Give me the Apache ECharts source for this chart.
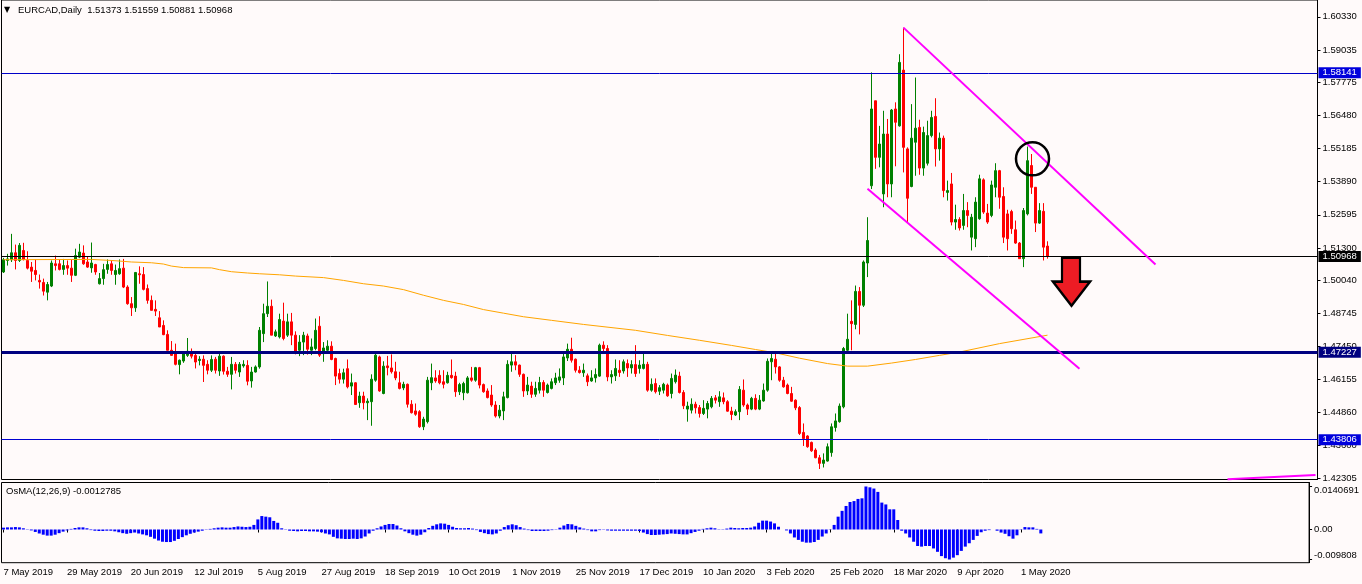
<!DOCTYPE html>
<html><head><meta charset="utf-8">
<script src="https://cdn.jsdelivr.net/npm/echarts@6/dist/echarts.min.js"></script>
<style>html,body{margin:0;padding:0;background:#fffafa;}#c{width:1362px;height:584px;}</style>
</head><body><div id="c"></div>
<script>
// ---- tick labels ----
const dateTicks = ['7 May 2019','29 May 2019','20 Jun 2019','12 Jul 2019','5 Aug 2019','27 Aug 2019','18 Sep 2019','10 Oct 2019','1 Nov 2019','25 Nov 2019','17 Dec 2019','10 Jan 2020','3 Feb 2020','25 Feb 2020','18 Mar 2020','9 Apr 2020','1 May 2020'];
const dateTickStep = 16;
const priceTicks = [1.60330,1.59035,1.57775,1.56480,1.55185,1.53890,1.52595,1.51300,1.50040,1.48745,1.47450,1.46155,1.44860,1.43600,1.42305];
const osmaTicks = [0.0140691, 0, -0.009808];
const osmaTickText = ['0.0140691','0.00','-0.009808'];

// ---- daily candles (EURCAD) ----
const opens = [1.5036,1.5081,1.5084,1.5111,1.5081,1.5120,1.5081,1.5055,1.5042,1.5003,
1.4995,1.4957,1.4981,1.5068,1.5068,1.5046,1.5061,1.5051,1.5023,1.5094,
1.5110,1.5075,1.5052,1.5065,1.4990,1.5010,1.5046,1.5068,1.5026,1.5029,
1.5051,1.4977,1.4912,1.4896,1.5029,1.5026,1.4971,1.4925,1.4890,1.4857,
1.4827,1.4792,1.4730,1.4723,1.4674,1.4688,1.4710,1.4717,1.4710,1.4690,
1.4695,1.4675,1.4652,1.4695,1.4649,1.4707,1.4648,1.4636,1.4675,1.4645,
1.4669,1.4671,1.4610,1.4645,1.4665,1.4795,1.4873,1.4902,1.4786,1.4782,
1.4844,1.4789,1.4841,1.4789,1.4730,1.4762,1.4786,1.4730,1.4737,1.4824,
1.4717,1.4730,1.4746,1.4698,1.4639,1.4617,1.4658,1.4590,1.4603,1.4525,
1.4551,1.4525,1.4529,1.4613,1.4704,1.4561,1.4669,1.4661,1.4646,1.4603,
1.4583,1.4597,1.4519,1.4493,1.4490,1.4431,1.4451,1.4603,1.4622,1.4632,
1.4607,1.4603,1.4632,1.4629,1.4568,1.4564,1.4564,1.4622,1.4613,1.4662,
1.4596,1.4571,1.4555,1.4516,1.4473,1.4493,1.4545,1.4672,1.4685,1.4672,
1.4636,1.4571,1.4590,1.4558,1.4574,1.4604,1.4565,1.4581,1.4603,1.4613,
1.4622,1.4700,1.4734,1.4695,1.4652,1.4642,1.4630,1.4610,1.4622,1.4629,
1.4750,1.4737,1.4626,1.4630,1.4652,1.4649,1.4678,1.4661,1.4674,1.4659,
1.4659,1.4675,1.4574,1.4600,1.4570,1.4574,1.4594,1.4561,1.4607,1.4629,
1.4565,1.4500,1.4496,1.4519,1.4506,1.4483,1.4500,1.4509,1.4544,1.4529,
1.4544,1.4529,1.4492,1.4477,1.4490,1.4574,1.4516,1.4500,1.4542,1.4500,
1.4532,1.4574,1.4685,1.4695,1.4665,1.4613,1.4594,1.4561,1.4535,1.4506,
1.4409,1.4395,1.4370,1.4340,1.4310,1.4288,1.4297,1.4330,1.4428,1.4451,
1.4509,1.4730,1.4843,1.4831,1.4960,1.4906,1.5071,1.5373,1.5705,1.5484,
1.5341,1.5575,1.5380,1.5673,1.5607,1.5825,1.5517,1.5370,1.5543,1.5601,
1.5442,1.5461,1.5569,1.5644,1.5517,1.5559,1.5347,1.5380,1.5231,1.5241,
1.5218,1.5276,1.5172,1.5166,1.5244,1.5396,1.5266,1.5257,1.5367,1.5432,
1.5331,1.5263,1.5272,1.5201,1.5149,1.5088,1.5263,1.5452,1.5367,1.5227,
1.5273,1.51373];
const highs = [1.5091,1.5107,1.5185,1.5143,1.5149,1.5150,1.5117,1.5075,1.5084,1.5026,
1.5010,1.4997,1.5081,1.5100,1.5085,1.5087,1.5081,1.5084,1.5127,1.5146,
1.5140,1.5097,1.5151,1.5068,1.5032,1.5068,1.5085,1.5081,1.5065,1.5085,
1.5087,1.4984,1.4938,1.5036,1.5058,1.5055,1.4987,1.4944,1.4925,1.4883,
1.4847,1.4808,1.4766,1.4756,1.4694,1.4723,1.4778,1.4737,1.4720,1.4707,
1.4710,1.4691,1.4710,1.4704,1.4717,1.4710,1.4665,1.4704,1.4684,1.4684,
1.4691,1.4691,1.4665,1.4671,1.4821,1.4912,1.4999,1.4928,1.4811,1.4873,
1.4916,1.4873,1.4876,1.4804,1.4789,1.4802,1.4795,1.4776,1.4854,1.4863,
1.4762,1.4769,1.4765,1.4701,1.4658,1.4658,1.4694,1.4639,1.4605,1.4568,
1.4568,1.4542,1.4636,1.4720,1.4709,1.4687,1.4708,1.4714,1.4685,1.4646,
1.4607,1.4600,1.4535,1.4522,1.4496,1.4470,1.4626,1.4678,1.4652,1.4652,
1.4652,1.4646,1.4694,1.4646,1.4603,1.4607,1.4629,1.4665,1.4665,1.4665,
1.4600,1.4581,1.4594,1.4531,1.4516,1.4568,1.4691,1.4726,1.4711,1.4674,
1.4639,1.4626,1.4607,1.4607,1.4626,1.4613,1.4600,1.4620,1.4642,1.4659,
1.4717,1.4756,1.4779,1.4698,1.4668,1.4678,1.4639,1.4652,1.4659,1.4756,
1.4765,1.4750,1.4652,1.4694,1.4691,1.4694,1.4694,1.4691,1.4750,1.4691,
1.4717,1.4685,1.4620,1.4620,1.4594,1.4603,1.4600,1.4639,1.4655,1.4646,
1.4574,1.4529,1.4542,1.4529,1.4516,1.4535,1.4532,1.4551,1.4555,1.4570,
1.4565,1.4535,1.4509,1.4499,1.4590,1.4616,1.4522,1.4548,1.4558,1.4555,
1.4600,1.4698,1.4724,1.4717,1.4668,1.4626,1.4600,1.4587,1.4538,1.4512,
1.4444,1.4398,1.4373,1.4347,1.4321,1.4327,1.4366,1.4444,1.4483,1.4522,
1.4743,1.4873,1.4925,1.4983,1.4977,1.5081,1.5250,1.5816,1.5705,1.5607,
1.5666,1.5634,1.5673,1.5699,1.5887,1.5991,1.5523,1.5692,1.5796,1.5631,
1.5604,1.5627,1.5666,1.5715,1.5581,1.5569,1.5393,1.5423,1.5299,1.5250,
1.5341,1.5309,1.5263,1.5328,1.5416,1.5402,1.5302,1.5393,1.5461,1.5435,
1.5367,1.5279,1.5279,1.5237,1.5153,1.5286,1.5526,1.5497,1.5367,1.5305,
1.5305,1.51559];
const lows = [1.5032,1.5061,1.5075,1.5046,1.5075,1.5081,1.5046,1.4997,1.5003,1.4971,
1.4944,1.4925,1.4977,1.5042,1.5042,1.5025,1.5025,1.4997,1.5020,1.5090,
1.5064,1.5052,1.5033,1.5025,1.4987,1.4986,1.5029,1.5025,1.4986,1.5025,
1.4973,1.4908,1.4864,1.4880,1.4990,1.4964,1.4912,1.4886,1.4864,1.4821,
1.4789,1.4730,1.4708,1.4671,1.4636,1.4681,1.4704,1.4698,1.4659,1.4671,
1.4606,1.4636,1.4645,1.4639,1.4630,1.4635,1.4626,1.4577,1.4639,1.4626,
1.4662,1.4593,1.4584,1.4643,1.4658,1.4762,1.4860,1.4789,1.4782,1.4776,
1.4769,1.4782,1.4750,1.4714,1.4707,1.4711,1.4713,1.4711,1.4730,1.4704,
1.4685,1.4724,1.4691,1.4594,1.4600,1.4600,1.4581,1.4555,1.4516,1.4505,
1.4499,1.4457,1.4435,1.4607,1.4568,1.4558,1.4632,1.4639,1.4613,1.4577,
1.4574,1.4506,1.4483,1.4474,1.4427,1.4418,1.4444,1.4574,1.4603,1.4597,
1.4581,1.4600,1.4619,1.4548,1.4555,1.4535,1.4561,1.4607,1.4607,1.4581,
1.4564,1.4542,1.4509,1.4467,1.4464,1.4457,1.4542,1.4646,1.4652,1.4626,
1.4548,1.4555,1.4544,1.4548,1.4561,1.4548,1.4561,1.4577,1.4594,1.4603,
1.4594,1.4688,1.4682,1.4643,1.4639,1.4626,1.4590,1.4607,1.4604,1.4626,
1.4720,1.4609,1.4600,1.4610,1.4626,1.4639,1.4626,1.4639,1.4626,1.4639,
1.4655,1.4568,1.4568,1.4561,1.4555,1.4561,1.4548,1.4542,1.4600,1.4561,
1.4500,1.4451,1.4483,1.4483,1.4467,1.4477,1.4464,1.4503,1.4522,1.4509,
1.4519,1.4490,1.4457,1.4473,1.4457,1.4509,1.4477,1.4496,1.4496,1.4496,
1.4529,1.4568,1.4613,1.4639,1.4607,1.4584,1.4558,1.4529,1.4496,1.4399,
1.4356,1.4349,1.4333,1.4308,1.4266,1.4272,1.4295,1.4314,1.4412,1.4447,
1.4503,1.4724,1.4730,1.4812,1.4792,1.4899,1.5016,1.5360,1.5439,1.5445,
1.5289,1.5328,1.5328,1.5449,1.5604,1.5425,1.5231,1.5367,1.5412,1.5416,
1.5412,1.5452,1.5562,1.5448,1.5471,1.5328,1.5315,1.5218,1.5201,1.5198,
1.5201,1.5211,1.5120,1.5133,1.5240,1.5263,1.5224,1.5250,1.5328,1.5283,
1.5149,1.5120,1.5185,1.5146,1.5088,1.5055,1.5257,1.5341,1.5192,1.5224,
1.5081,1.50881];
const closes = [1.5084,1.5087,1.5111,1.5081,1.5140,1.5085,1.5051,1.5039,1.5026,1.4997,
1.4961,1.4987,1.5071,1.5061,1.5046,1.5061,1.5051,1.5023,1.5100,1.5114,
1.5068,1.5055,1.5071,1.5036,1.5010,1.5045,1.5065,1.5042,1.5042,1.5049,
1.4977,1.4912,1.4896,1.5034,1.5025,1.4968,1.4925,1.4886,1.4883,1.4821,
1.4791,1.4730,1.4710,1.4675,1.4691,1.4717,1.4726,1.4707,1.4684,1.4695,
1.4671,1.4652,1.4694,1.4652,1.4707,1.4648,1.4636,1.4675,1.4652,1.4675,
1.4675,1.4609,1.4645,1.4665,1.4808,1.4873,1.4902,1.4789,1.4802,1.4850,
1.4776,1.4841,1.4789,1.4727,1.4762,1.4789,1.4734,1.4743,1.4808,1.4711,
1.4739,1.4746,1.4694,1.4629,1.4617,1.4642,1.4587,1.4603,1.4518,1.4551,
1.4525,1.4531,1.4617,1.4711,1.4571,1.4668,1.4662,1.4646,1.4622,1.4581,
1.4597,1.4519,1.4486,1.4480,1.4431,1.4461,1.4613,1.4623,1.4610,1.4603,
1.4597,1.4632,1.4623,1.4568,1.4596,1.4600,1.4622,1.4613,1.4662,1.4594,
1.4568,1.4545,1.4516,1.4473,1.4496,1.4548,1.4675,1.4685,1.4672,1.4636,
1.4571,1.4594,1.4558,1.4581,1.4604,1.4574,1.4594,1.4607,1.4622,1.4626,
1.4704,1.4734,1.4691,1.4652,1.4643,1.4652,1.4607,1.4622,1.4635,1.4750,
1.4737,1.4626,1.4635,1.4659,1.4643,1.4685,1.4661,1.4674,1.4639,1.4672,
1.4675,1.4574,1.4597,1.4568,1.4584,1.4597,1.4552,1.4620,1.4633,1.4565,
1.4513,1.4512,1.4519,1.4505,1.4483,1.4503,1.4522,1.4542,1.4535,1.4548,
1.4529,1.4492,1.4479,1.4490,1.4577,1.4516,1.4500,1.4542,1.4500,1.4535,
1.4574,1.4687,1.4698,1.4665,1.4613,1.4587,1.4561,1.4531,1.4505,1.4405,
1.4385,1.4353,1.4337,1.4310,1.4288,1.4301,1.4353,1.4431,1.4454,1.4512,
1.4737,1.4773,1.4834,1.4960,1.4906,1.5075,1.5159,1.5673,1.5484,1.5536,
1.5575,1.5380,1.5669,1.5621,1.5855,1.5523,1.5324,1.5559,1.5598,1.5442,
1.5581,1.5569,1.5640,1.5517,1.5559,1.5354,1.5354,1.5231,1.5241,1.5208,
1.5276,1.5257,1.5250,1.5309,1.5400,1.5270,1.5231,1.5376,1.5432,1.5328,
1.5172,1.5166,1.5205,1.5149,1.5088,1.5276,1.5471,1.5367,1.5227,1.5276,
1.5133,1.50968];

// ---- OsMA(12,26,9) histogram ----
const osma = [0.0006,0.0007,0.0007,0.0008,0.0007,0.0004,0.0001,-0.0003,
-0.0008,-0.0013,-0.0017,-0.0020,-0.0020,-0.0017,-0.0012,-0.0007,-0.0003,
0.0002,0.0005,0.0007,0.0007,0.0004,
-0.0002,-0.0004,-0.0005,-0.0005,-0.0004,-0.0004,-0.0006,-0.0009,-0.0012,
-0.0014,-0.0012,-0.0010,-0.0013,-0.0016,-0.0019,-0.0024,-0.0030,-0.0036,-0.0040,
-0.0041,-0.0041,-0.0037,-0.0031,-0.0025,
-0.0019,-0.0014,-0.0010,-0.0007,-0.0004,-0.0001,
0.0002,0.0004,0.0006,0.0007,0.0006,0.0006,0.0008,0.0010,0.0009,0.0008,0.0009,
0.0015,0.0033,0.0044,0.0042,0.0040,0.0028,0.0022,0.0004,
-0.0001,-0.0004,-0.0005,-0.0006,-0.0005,
-0.0005,-0.0006,-0.0006,-0.0007,-0.0009,-0.0013,-0.0016,
-0.0024,-0.0029,-0.0030,-0.0031,-0.0031,-0.0030,-0.0031,-0.0029,-0.0023,-0.0013,
-0.0004,0.0004,0.0010,0.0015,
0.0018,0.0018,0.0013,0.0004,
-0.0006,-0.0012,-0.0017,-0.0020,-0.0017,-0.0009,
0.0005,0.0012,0.0017,0.0020,0.0019,0.0015,0.0009,0.0005,
0.0004,0.0004,0.0005,0.0003,-0.0002,-0.0008,-0.0012,
-0.0015,-0.0016,-0.0013,-0.0004,
0.0008,0.0014,0.0017,0.0014,0.0008,0.0003,
-0.0002,-0.0005,-0.0005,-0.0005,-0.0005,-0.0004,-0.0002,0.0001,
0.0006,0.0013,0.0018,0.0017,0.0012,0.0007,0.0003,
-0.0002,-0.0006,-0.0006,-0.0002,
0.0001,-0.0003,-0.0004,-0.0004,-0.0004,-0.0004,-0.0004,-0.0004,-0.0004,-0.0005,
-0.0010,-0.0015,-0.0018,-0.0018,-0.0017,-0.0016,-0.0015,-0.0013,
-0.0014,-0.0015,-0.0016,-0.0016,-0.0012,-0.0008,-0.0004,
0.0002,0.0004,0.0006,0.0004,0.0001,-0.0001,0.0003,
0.0006,0.0005,0.0004,0.0005,0.0005,0.0006,0.0010,
0.0022,0.0029,0.0029,0.0026,0.0020,0.0009,
0.0000,-0.0003,
-0.0013,-0.0026,-0.0034,-0.0040,-0.0043,-0.0043,-0.0041,-0.0034,-0.0023,-0.0013,
0.0001,
0.0015,0.0042,0.0061,0.0077,0.0090,0.0093,0.0100,0.0102,0.0140691,0.0138,0.0134,0.0123,0.0088,0.0082,0.0066,0.0066,0.0031,-0.0004,
-0.0013,-0.0026,-0.0040,-0.0054,-0.0056,-0.0054,-0.0054,-0.0062,-0.0073,-0.0087,-0.0094,-0.009808,-0.0092,-0.0084,-0.0070,-0.0056,-0.0045,-0.0034,-0.0021,-0.0009,-0.0004,-0.0002,0.0000,
-0.0004,-0.0010,-0.0014,-0.0022,-0.0030,-0.0019,-0.0001,
0.0008,0.0007,0.0007,0.0002,-0.0012785];

// ---- moving average (orange), read at knots ----
const maIdx = [0,22,27,32,37,40,42,45,52,54,57,61,64,69,73,80,85,90,95,100,105,110,115,120,125,130,137,145,158,166,174,182,188,193,199,206,211,216,222,228,234,239,249,261];
const maVals = [1.5084,1.5085,1.5081,1.5075,1.5072,1.5067,1.5059,1.5053,1.5052,1.5045,1.5037,1.5032,1.5029,1.5025,1.5020,1.5014,1.5003,1.4990,1.4981,1.4967,1.4945,1.4925,1.4909,1.4889,1.4875,1.4861,1.4847,1.4831,1.4808,1.4788,1.4769,1.4749,1.4733,1.4720,1.4699,1.4678,1.4668,1.4668,1.4680,1.4694,1.4710,1.4723,1.4756,1.4789];

// ---- drawn objects (bar index, price) ----
const levelValues = [1.58141, 1.50968, 1.47227, 1.43806];
const upperTrend = [[225, 1.5991], [288, 1.5065]];
const lowerTrend = [[216, 1.5361], [269, 1.4658]];
const bottomTrend = [[306, 1.4226], [328, 1.4243]];
const circleAt = [257, 1.5478];
const arrowAt = [267, 1.4998];

const N = 329;
const cats = Array.from({length: N}, (_, i) => String(i));
const last = opens.length - 1;
const FONT = '"Liberation Sans", Arial, sans-serif';

const candles = opens.map((o, i) => [o, closes[i], lows[i], highs[i]]);
const maData = new Array(N).fill(null);
maIdx.forEach((k, j) => { maData[k] = maVals[j]; });

const levelStyles = [
  {line: '#0000c8', bg: '#0000dc', w: 1},
  {line: '#000000', bg: '#000000', w: 1},
  {line: '#000080', bg: '#000080', w: 3},
  {line: '#0000d0', bg: '#0000dc', w: 1}
];
const trendLine = (pts, w) => [
  {coord: [String(pts[0][0]), pts[0][1]], lineStyle: {color: '#ff00ff', width: w, type: 'solid'}, label: {show: false}},
  {coord: [String(pts[1][0]), pts[1][1]]}
];

const chart = echarts.init(document.getElementById('c'), null, {renderer: 'canvas'});
chart.setOption({
  animation: false,
  backgroundColor: '#fffafa',
  textStyle: {fontFamily: FONT},
  grid: [
    {left: 1.5, top: -1, width: 1316, height: 480.5, show: true, borderColor: '#000', borderWidth: 1, backgroundColor: 'transparent'},
    {left: 1.5, top: 482.5, width: 1316, height: 80.2, show: true, borderColor: '#000', borderWidth: 1, backgroundColor: 'transparent'}
  ],
  xAxis: [
    {type: 'category', gridIndex: 0, data: cats, show: false},
    {type: 'category', gridIndex: 1, data: cats,
      axisLine: {show: false},
      axisTick: {show: true, alignWithLabel: true, length: 3, lineStyle: {color: '#000'},
        interval: (i) => i % dateTickStep === 0 && i / dateTickStep < dateTicks.length},
      axisLabel: {interval: (i) => i % dateTickStep === 0 && i / dateTickStep < dateTicks.length,
        formatter: (v, i) => dateTicks[Math.round(i / dateTickStep)] || '',
        align: 'left', margin: 5, color: '#000', fontSize: 9.5, fontFamily: FONT},
      splitLine: {show: false}}
  ],
  yAxis: [
    {type: 'value', gridIndex: 0, position: 'right', scale: true, min: 1.422495, max: 1.60989,
      splitLine: {show: false},
      axisLine: {show: true, lineStyle: {color: '#000'}},
      axisTick: {show: true, length: 3, customValues: priceTicks, lineStyle: {color: '#000'}},
      axisLabel: {customValues: priceTicks, formatter: (v) => v.toFixed(5), margin: 5, color: '#000', fontSize: 9.5, fontFamily: FONT}},
    {type: 'value', gridIndex: 1, position: 'right', scale: true, min: -0.010860, max: 0.015375,
      splitLine: {show: false},
      axisLine: {show: true, lineStyle: {color: '#000'}},
      axisTick: {show: true, length: 3, customValues: osmaTicks, lineStyle: {color: '#000'}},
      axisLabel: {customValues: osmaTicks, margin: 5, color: '#000', fontSize: 9.5, fontFamily: FONT,
        formatter: (v) => {
          const k = osmaTicks.findIndex(t => Math.abs(t - v) < 1e-9);
          if (k < 0) return '';
          return '{' + ['t', 'm', 'b'][k] + '|' + osmaTickText[k] + '}';
        },
        rich: {
          t: {fontSize: 9.5, fontFamily: FONT, color: '#000', padding: [8, 0, 0, 0]},
          m: {fontSize: 9.5, fontFamily: FONT, color: '#000'},
          b: {fontSize: 9.5, fontFamily: FONT, color: '#000', padding: [0, 0, 8, 0]}
        }}}
  ],
  graphic: [
    {type: 'text', left: 4, top: 6, style: {text: '▼', font: '8px "DejaVu Sans"', fill: '#000'}},
    {type: 'text', left: 18, top: 5, style: {text: 'EURCAD,Daily  ' + [opens[last], highs[last], lows[last], closes[last]].map(v => v.toFixed(5)).join(' '), font: '9.5px ' + FONT, fill: '#000'}},
    {type: 'text', left: 6, top: 486, style: {text: 'OsMA(12,26,9) ' + osma[last].toFixed(7), font: '9.5px ' + FONT, fill: '#000'}}
  ],
  series: [
    {type: 'candlestick', xAxisIndex: 0, yAxisIndex: 0, data: candles, barWidth: 2,
      itemStyle: {color: '#008000', color0: '#ff0000', borderColor: '#008000', borderColor0: '#ff0000', borderWidth: 1},
      markLine: {silent: true, symbol: ['none', 'none'], animation: false, precision: 6,
        data: levelValues.map((v, k) => ({
          yAxis: v,
          lineStyle: {color: levelStyles[k].line, width: levelStyles[k].w, type: 'solid'},
          label: {show: true, position: 'end', distance: 1, formatter: () => v.toFixed(5),
            color: '#fff', backgroundColor: levelStyles[k].bg, padding: [1, 4, 0, 4], fontSize: 9.5, fontFamily: FONT}
        })).concat([trendLine(upperTrend, 2), trendLine(lowerTrend, 2), trendLine(bottomTrend, 2)])},
      markPoint: {silent: true, animation: false, label: {show: false},
        data: [
          {coord: [String(circleAt[0]), circleAt[1]], symbol: 'circle', symbolSize: 33, symbolOffset: [1, 0],
            itemStyle: {color: 'rgba(0,0,0,0)', borderColor: '#000', borderWidth: 2.5}},
          {coord: [String(arrowAt[0]), arrowAt[1]], symbol: 'path://M9,0 L27,0 L27,24 L37,24 L18.5,48 L0,24 L9,24 Z', symbolSize: [37, 48],
            itemStyle: {color: '#ed1c24', borderColor: '#000', borderWidth: 2.5}}
        ]}
    },
    {type: 'line', xAxisIndex: 0, yAxisIndex: 0, data: maData, connectNulls: true, showSymbol: false, symbol: 'none',
      lineStyle: {color: '#ffa500', width: 1}, z: 3, silent: true},
    {type: 'bar', xAxisIndex: 1, yAxisIndex: 1, data: osma, barWidth: 3, itemStyle: {color: '#0000ff'}, silent: true}
  ]
});
</script>
</body></html>
